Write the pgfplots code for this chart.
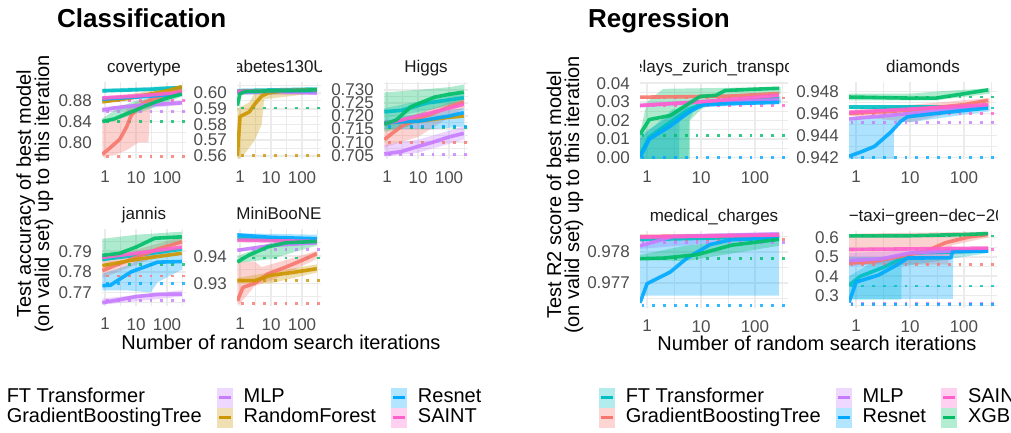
\documentclass[border=0pt]{standalone}
\usepackage{fontspec}
\setmainfont{Liberation Sans}
\usepackage{pgfplots}
\pgfplotsset{compat=1.18}
\definecolor{cFT}{HTML}{00BFC4}
\definecolor{cGBT}{HTML}{F8766D}
\definecolor{cMLP}{HTML}{C77CFF}
\definecolor{cRF}{HTML}{CD9600}
\definecolor{cRES}{HTML}{00A9FF}
\definecolor{cSAI}{HTML}{FF61CC}
\definecolor{cXGB}{HTML}{00BE67}
\definecolor{gridc}{HTML}{EBEBEB}
\definecolor{tickc}{HTML}{4D4D4D}
\definecolor{stripc}{HTML}{1A1A1A}
\newcommand{\myfs}[1]{\fontsize{#1}{#1}\selectfont}
\newcommand{\myB}[2]{\addplot[fill=#1,fill opacity=0.32,draw=none] coordinates {#2};}
\newcommand{\myL}[2]{\addplot[color=#1,line width=3.6pt,opacity=0.9,line join=round] coordinates {#2};}
\newcommand{\myD}[2]{\addplot[color=#1,line width=2.8pt,opacity=0.8,dash pattern=on 2.8pt off 8pt] coordinates {(0.5,#2)(600,#2)};}
\newcommand{\mystrip}[2]{\begin{scope}\clip ([yshift=1pt]#1.north west) rectangle ([yshift=30pt]#1.north east);\node[anchor=base,inner sep=0pt,font=\myfs{17},text=stripc] at ([yshift=9.5pt]#1.north) {#2};\end{scope}}
\pgfplotsset{
 mypanel/.style={scale only axis, anchor=north west,
  xtick={1,10,100}, xticklabels={1,10,100}, minor xtick={0.3162,3.162,31.62,316.2},
  grid=both, major grid style={line width=1.6pt,gridc}, minor grid style={line width=0.8pt,gridc},
  axis line style={draw=none}, major tick length=0pt, minor tick length=0pt,
  tick label style={font=\myfs{17}, text=tickc, inner sep=0pt},
  xticklabel style={yshift=-12pt}, yticklabel style={xshift=-10pt},
  scaled y ticks=false},
 mycls/.style={mypanel, width=84pt, height=77pt, xmin=0.80, xmax=410},
 myreg/.style={mypanel, width=148pt, height=77pt, xmin=0.74, xmax=410},
 legkey/.style={legend image code/.code={\fill[#1!30] (0pt,-9.5pt) rectangle (15pt,9.5pt); \draw[#1,line width=3.5pt] (1.5pt,0pt) -- (13.5pt,0pt);}},
 mylegax/.style={at={(0pt,0pt)}, anchor=south west, scale only axis, width=1011pt, height=433pt,
  xmin=0,xmax=1,ymin=0,ymax=1, hide axis, legend columns=3, legend cell align=left,
  legend style={anchor=north west, draw=none, fill=none, inner sep=0pt, outer sep=0pt, row sep=0pt,
   font=\myfs{20}, nodes={inner sep=0.25pt, text height=15pt, text depth=4.5pt},
   /tikz/every odd column/.append style={column sep=11pt},
   /tikz/every even column/.append style={column sep=15pt}}},
}
\begin{document}
\begin{tikzpicture}
\useasboundingbox (0pt,0pt) rectangle (1011pt,433pt);
\clip (0pt,0pt) rectangle (1011pt,433pt);
\fill[white] (0pt,0pt) rectangle (1011pt,433pt);

% ---------------- covertype
\begin{axis}[xmode=log, mycls, name=c1, at={(102pt,351pt)}, ymin=0.768, ymax=0.916,
 ytick={0.80,0.84,0.88}, yticklabels={0.80,0.84,0.88}, minor ytick={0.78,0.82,0.86,0.90}]
\myB{cFT}{(0.82,.903)(300,.909)(300,.902)(0.82,.896)}
\myB{cGBT}{(0.82,.845)(3,.845)(6,.870)(12,.878)(25,.885)(100,.895)(300,.905)(300,.895)(100,.888)(30,.872)(25,.80)(12,.80)(5,.785)(2,.775)(0.82,.772)}
\myB{cMLP}{(0.82,.868)(300,.880)(300,.872)(0.82,.857)}
\myB{cRF}{(0.82,.883)(300,.910)(300,.902)(0.82,.874)}
\myB{cRES}{(0.82,.888)(300,.896)(300,.889)(0.82,.879)}
\myB{cSAI}{(0.82,.889)(300,.900)(300,.893)(0.82,.881)}
\myB{cXGB}{(0.82,.846)(3,.868)(10,.880)(30,.885)(300,.897)(300,.888)(30,.865)(10,.855)(3,.845)(0.82,.838)}
\myD{cGBT}{.773}\myD{cMLP}{.859}\myD{cXGB}{.840}\myD{cSAI}{.880}
\myL{cFT}{(0.82,.899)(3,.900)(10,.901)(30,.902)(100,.904)(300,.905)}
\myL{cGBT}{(0.82,.777)(1.5,.790)(3,.806)(5,.830)(7,.852)(15,.873)(30,.882)(100,.892)(300,.900)}
\myL{cMLP}{(0.82,.862)(2,.866)(5,.869)(20,.872)(100,.874)(300,.876)}
\myL{cRF}{(0.82,.878)(3,.882)(10,.887)(30,.893)(100,.899)(300,.907)}
\myL{cRES}{(0.82,.883)(10,.887)(300,.893)}
\myL{cSAI}{(0.82,.885)(10,.889)(300,.896)}
\myL{cXGB}{(0.82,.840)(2,.845)(5,.855)(10,.862)(20,.870)(50,.879)(100,.885)(300,.893)}
\end{axis}

% ---------------- diabetes130US
\begin{axis}[xmode=log, mycls, name=c2, at={(237pt,351pt)}, ymin=0.558, ymax=0.607,
 ytick={0.56,0.57,0.58,0.59,0.60}, yticklabels={0.56,0.57,0.58,0.59,0.60}, minor ytick={0.565,0.575,0.585,0.595,0.605}]
\myB{cMLP}{(0.82,.601)(300,.601)(300,.599)(0.82,.599)}
\myB{cRF}{(0.82,.590)(2,.594)(3,.600)(300,.603)(300,.600)(6,.596)(5,.580)(3,.570)(1.5,.562)(0.82,.557)}
\myB{cXGB}{(0.82,.600)(300,.603)(300,.601)(1,.599)(0.82,.588)}
\myD{cRF}{.560}\myD{cXGB}{.5905}
\myL{cFT}{(0.82,.6015)(300,.6025)}
\myL{cGBT}{(0.82,.601)(300,.602)}
\myL{cMLP}{(0.82,.6005)(10,.601)(300,.600)}
\myL{cRF}{(0.82,.560)(1,.585)(2,.588)(3,.593)(5,.598)(8,.600)(20,.601)(300,.602)}
\myL{cRES}{(0.82,.6008)(300,.6015)}
\myL{cSAI}{(0.82,.601)(300,.6018)}
\myL{cXGB}{(0.82,.592)(1,.5995)(1.5,.601)(300,.602)}
\end{axis}

% ---------------- Higgs
\begin{axis}[xmode=log, mycls, name=c3, at={(384pt,351pt)}, ymin=0.7036, ymax=0.733,
 ytick={0.705,0.71,0.715,0.72,0.725,0.73}, yticklabels={0.705,0.710,0.715,0.720,0.725,0.730},
 minor ytick={0.7075,0.7125,0.7175,0.7225,0.7275,0.7325}]
\myB{cFT}{(0.82,.723)(300,.729)(300,.725)(0.82,.719)}
\myB{cGBT}{(0.82,.716)(3,.719)(10,.721)(300,.727)(300,.723)(10,.712)(0.82,.708)}
\myB{cMLP}{(0.82,.709)(10,.711)(300,.716)(300,.711)(10,.706)(0.82,.7045)}
\myB{cRES}{(0.82,.719)(300,.723)(300,.716)(30,.715)(0.82,.715)}
\myB{cXGB}{(0.82,.729)(10,.730)(100,.731)(300,.732)(300,.726)(20,.722)(5,.716)(0.82,.714)}
\myD{cMLP}{.7053}\myD{cGBT}{.710}\myD{cXGB}{.7155}\myD{cRES}{.716}
\myL{cFT}{(0.82,.7216)(3,.7222)(20,.725)(300,.727)}
\myL{cGBT}{(0.82,.711)(1.5,.7135)(2.9,.716)(10,.719)(30,.721)(100,.7235)(300,.7254)}
\myL{cMLP}{(0.82,.7055)(3,.7065)(10,.7084)(30,.710)(100,.712)(300,.7134)}
\myL{cRF}{(0.82,.7175)(10,.718)(100,.7195)(300,.720)}
\myL{cRES}{(0.82,.7175)(10,.718)(100,.720)(300,.7213)}
\myL{cSAI}{(0.82,.717)(10,.720)(100,.723)(300,.7245)}
\myL{cXGB}{(0.82,.7168)(2,.7185)(5.8,.7235)(15,.7255)(34,.7272)(100,.7283)(300,.7291)}
\end{axis}

% ---------------- jannis
\begin{axis}[xmode=log, mycls, name=c4, at={(102pt,204pt)}, ymin=0.7634, ymax=0.8008,
 ytick={0.77,0.78,0.79}, yticklabels={0.77,0.78,0.79}, minor ytick={0.765,0.775,0.785,0.795}]
\myB{cGBT}{(0.82,.786)(300,.797)(300,.792)(0.82,.777)}
\myB{cMLP}{(0.82,.767)(300,.771)(300,.768)(0.82,.764)}
\myB{cRES}{(0.82,.779)(5,.783)(30,.789)(300,.790)(300,.781)(50,.775)(30,.770)(5,.771)(0.82,.771)}
\myB{cXGB}{(0.82,.796)(10,.798)(300,.7995)(300,.794)(30,.790)(0.82,.785)}
\myD{cGBT}{.778}\myD{cRES}{.7742}\myD{cXGB}{.7835}\myD{cMLP}{.766}
\myL{cFT}{(0.82,.786)(10,.788)(300,.791)}
\myL{cGBT}{(0.82,.7806)(3,.784)(10,.787)(50,.791)(300,.7946)}
\myL{cMLP}{(0.82,.765)(3,.7665)(10,.768)(50,.769)(300,.7692)}
\myL{cRF}{(0.82,.783)(10,.786)(300,.789)}
\myL{cRES}{(0.82,.7733)(1.5,.7735)(2.5,.7757)(7,.780)(20,.7825)(50,.7847)(300,.785)}
\myL{cSAI}{(0.82,.787)(10,.789)(300,.792)}
\myL{cXGB}{(0.82,.788)(3,.789)(10,.792)(40,.7963)(300,.797)}
\end{axis}

% ---------------- MiniBooNE
\begin{axis}[xmode=log, mycls, name=c5, at={(237pt,204pt)}, ymin=0.9216, ymax=0.9501,
 ytick={0.93,0.94}, yticklabels={0.93,0.94}, minor ytick={0.925,0.935,0.945}]
\myB{cGBT}{(0.82,.938)(3,.938)(5,.936)(300,.942)(300,.939)(10,.931)(3,.929)(1,.9225)(0.82,.922)}
\myB{cRF}{(0.82,.932)(300,.937)(300,.934)(10,.930)(0.82,.930)}
\myB{cRES}{(0.82,.9485)(300,.948)(300,.946)(0.82,.947)}
\myB{cXGB}{(0.82,.940)(10,.945)(300,.947)(300,.944)(10,.939)(0.82,.9375)}
\myD{cGBT}{.9225}\myD{cRF}{.931}\myD{cXGB}{.9394}\myD{cMLP}{.9425}
\myL{cFT}{(0.82,.9465)(300,.9457)}
\myL{cGBT}{(0.82,.9235)(1.25,.9285)(3,.930)(8,.9335)(30,.936)(100,.9385)(300,.941)}
\myL{cMLP}{(0.82,.9422)(10,.944)(300,.945)}
\myL{cRF}{(0.82,.931)(3,.931)(10,.933)(50,.934)(300,.9354)}
\myL{cRES}{(0.82,.9479)(10,.947)(300,.9465)}
\myL{cSAI}{(0.82,.946)(300,.9455)}
\myL{cXGB}{(0.82,.9379)(2,.9405)(8,.9435)(30,.945)(300,.9455)}
\end{axis}

% ---------------- delays_zurich_transport
\begin{axis}[xmode=log, myreg, name=r1, at={(640pt,351pt)}, ymin=-0.0009, ymax=0.0407,
 ytick={0,0.01,0.02,0.03,0.04}, yticklabels={0.00,0.01,0.02,0.03,0.04}, minor ytick={0.005,0.015,0.025,0.035}]
\myB{cFT}{(0.74,.010)(3,.026)(300,.033)(300,.030)(8,.027)(6,.020)(5.9,-.001)(0.74,-.001)}
\myB{cRES}{(0.74,.012)(2,.020)(4,.027)(10,.030)(300,.031)(300,.029)(10,.027)(4,.020)(3.9,-.001)(0.74,-.001)}
\myB{cXGB}{(0.74,.013)(1,.030)(2,.037)(300,.038)(300,.034)(30,.032)(10,.026)(6.3,.020)(6.2,-.001)(0.74,-.001)}
\myD{cRES}{0}\myD{cXGB}{.012}\myD{cSAI}{.028}\myD{cGBT}{.032}
\myL{cFT}{(0.74,.001)(1.1,.011)(2.7,.019)(6,.026)(11,.029)(30,.030)(280,.032)}
\myL{cGBT}{(0.74,.0325)(30,.033)(280,.0345)}
\myL{cMLP}{(0.74,.028)(10,.030)(280,.031)}
\myL{cRES}{(0.74,0)(1.1,.0098)(2.7,.0169)(6.3,.0249)(11,.0284)(30,.029)(280,.0297)}
\myL{cSAI}{(0.74,.028)(10,.030)(280,.0335)}
\myL{cXGB}{(0.74,.0124)(1.1,.0204)(2.7,.0226)(5.5,.0284)(9.6,.0329)(19,.0335)(28,.0361)(100,.0368)(280,.0373)}
\end{axis}

% ---------------- diamonds
\begin{axis}[xmode=log, myreg, name=r2, at={(849pt,351pt)}, ymin=0.94185, ymax=0.94887,
 ytick={0.942,0.944,0.946,0.948}, yticklabels={0.942,0.944,0.946,0.948}, minor ytick={0.943,0.945,0.947}]
\myB{cGBT}{(0.74,.9463)(300,.9474)(300,.9468)(10,.9452)(0.74,.9458)}
\myB{cRES}{(0.74,.9455)(5,.9458)(10,.9462)(300,.9468)(300,.9462)(10,.9452)(5.1,.9452)(5,.9418)(0.74,.9418)}
\myB{cXGB}{(0.74,.9478)(10,.9478)(30,.948)(300,.9483)(300,.9478)(30,.9472)(0.74,.9472)}
\myD{cXGB}{.9475}\myD{cFT}{.9465}\myD{cSAI}{.946}\myD{cMLP}{.9452}\myD{cRES}{.942}
\myL{cFT}{(0.74,.9466)(280,.9466)}
\myL{cGBT}{(0.74,.946)(10,.9463)(100,.9468)(280,.9472)}
\myL{cMLP}{(0.74,.9455)(10,.946)(280,.9467)}
\myL{cRES}{(0.74,.9421)(1.24,.9425)(2.2,.943)(4.4,.9443)(6.8,.9453)(9,.9457)(30,.946)(280,.9465)}
\myL{cSAI}{(0.74,.9461)(10,.9464)(280,.9468)}
\myL{cXGB}{(0.74,.9475)(10,.9474)(30,.9474)(100,.9478)(280,.94815)}
\end{axis}

% ---------------- medical_charges
\begin{axis}[xmode=log, myreg, name=r3, at={(640pt,202pt)}, ymin=0.97618, ymax=0.97868,
 ytick={0.977,0.978}, yticklabels={0.977,0.978}, minor ytick={0.9765,0.9775,0.9785}]
\myB{cMLP}{(0.74,.97855)(280,.97865)(280,.97845)(0.74,.9781)}
\myB{cRES}{(0.74,.9782)(2,.9785)(280,.97855)(280,.97658)(0.74,.97658)}
\myB{cXGB}{(0.74,.9779)(5,.9782)(280,.9785)(280,.9782)(5,.9777)(0.74,.97775)}
\myD{cMLP}{.97831}\myD{cXGB}{.97778}\myD{cRES}{.97625}\myD{cGBT}{.9784}
\myL{cFT}{(0.74,.9784)(280,.9785)}
\myL{cGBT}{(0.74,.9785)(280,.97855)}
\myL{cMLP}{(0.74,.9782)(3,.9785)(280,.97858)}
\myL{cRES}{(0.74,.97635)(1,.97697)(2.7,.97735)(5.5,.9778)(14.7,.97824)(37,.9784)(280,.97845)}
\myL{cSAI}{(0.74,.97848)(280,.97855)}
\myL{cXGB}{(0.74,.97778)(2,.9778)(8.4,.97791)(37,.97822)(280,.97841)}
\end{axis}

% ---------------- nyc-taxi-green-dec-2016
\begin{axis}[xmode=log, myreg, name=r4, at={(849pt,202pt)}, ymin=0.2365, ymax=0.6333,
 ytick={0.3,0.4,0.5,0.6}, yticklabels={0.3,0.4,0.5,0.6}, minor ytick={0.25,0.35,0.45,0.55}]
\myB{cFT}{(0.74,.40)(3,.50)(280,.54)(280,.52)(7,.45)(6.9,.28)(0.74,.28)}
\myB{cGBT}{(0.74,.60)(1,.62)(280,.63)(280,.60)(60,.56)(50,.46)(0.74,.46)}
\myB{cMLP}{(0.74,.52)(280,.55)(280,.53)(0.74,.45)}
\myB{cRES}{(0.74,.50)(62,.50)(63,.535)(280,.535)(280,.525)(63,.525)(62,.284)(0.74,.284)}
\myD{cGBT}{.462}\myD{cFT}{.35}\myD{cMLP}{.26}\myD{cRES}{.253}\myD{cXGB}{.608}\myD{cSAI}{.54}
\myL{cFT}{(0.74,.353)(1.2,.40)(3.5,.45)(11,.52)(280,.53)}
\myL{cGBT}{(0.74,.468)(2,.475)(6,.50)(20,.53)(46,.5735)(125,.603)(280,.615)}
\myL{cMLP}{(0.74,.48)(3,.49)(10,.52)(280,.54)}
\myL{cRES}{(0.74,.265)(1,.37)(2.6,.406)(4.4,.441)(5.9,.46)(9,.494)(57,.495)(62,.53)(280,.53)}
\myL{cSAI}{(0.74,.538)(280,.545)}
\myL{cXGB}{(0.74,.608)(10,.609)(100,.615)(280,.62)}
\end{axis}

% strips
\mystrip{c1}{covertype}
\mystrip{c2}{diabetes130US}
\mystrip{c3}{Higgs}
\mystrip{c4}{jannis}
\mystrip{c5}{MiniBooNE}
\mystrip{r1}{delays\_zurich\_transport}
\mystrip{r2}{diamonds}
\mystrip{r3}{medical\_charges}
\mystrip{r4}{nyc−taxi−green−dec−2016}

% titles and axis labels
\node[anchor=base west,inner sep=0pt,font=\bfseries\myfs{26}] at (57pt,405pt) {Classification};
\node[anchor=base west,inner sep=0pt,font=\bfseries\myfs{26}] at (588pt,405pt) {Regression};
\node[rotate=90,anchor=base,inner sep=0pt,font=\myfs{20}] at (31pt,239pt) {Test accuracy of best model};
\node[rotate=90,anchor=base,inner sep=0pt,font=\myfs{20}] at (49pt,239pt) {(on valid set) up to this iteration};
\node[rotate=90,anchor=base,inner sep=0pt,font=\myfs{20}] at (561pt,238pt) {Test R2 score of best model};
\node[rotate=90,anchor=base,inner sep=0pt,font=\myfs{20}] at (579pt,238pt) {(on valid set) up to this iteration};
\node[anchor=base,inner sep=0pt,font=\myfs{20}] at (281pt,83pt) {Number of random search iterations};
\node[anchor=base,inner sep=0pt,font=\myfs{20}] at (817pt,82pt) {Number of random search iterations};

% legends
\begin{scope}
\clip (0pt,0pt) rectangle (480pt,433pt);
\begin{axis}[mylegax, legend style={at={(-0.01978,0.10508)}}]
\addplot[draw=none,forget plot] coordinates {(0.5,0.5)};
\addlegendimage{legkey=cFT}\addlegendentry{FT Transformer}
\addlegendimage{legkey=cMLP}\addlegendentry{MLP}
\addlegendimage{legkey=cRES}\addlegendentry{Resnet}
\addlegendimage{legkey=cGBT}\addlegendentry{GradientBoostingTree}
\addlegendimage{legkey=cRF}\addlegendentry{RandomForest}
\addlegendimage{legkey=cSAI}\addlegendentry{SAINT}
\end{axis}
\end{scope}
\begin{axis}[mylegax, legend style={at={(0.59248,0.10508)}}]
\addplot[draw=none,forget plot] coordinates {(0.5,0.5)};
\addlegendimage{legkey=cFT}\addlegendentry{FT Transformer}
\addlegendimage{legkey=cMLP}\addlegendentry{MLP}
\addlegendimage{legkey=cSAI}\addlegendentry{SAINT}
\addlegendimage{legkey=cGBT}\addlegendentry{GradientBoostingTree}
\addlegendimage{legkey=cRES}\addlegendentry{Resnet}
\addlegendimage{legkey=cXGB}\addlegendentry{XGBoost}
\end{axis}
\end{tikzpicture}
\end{document}
